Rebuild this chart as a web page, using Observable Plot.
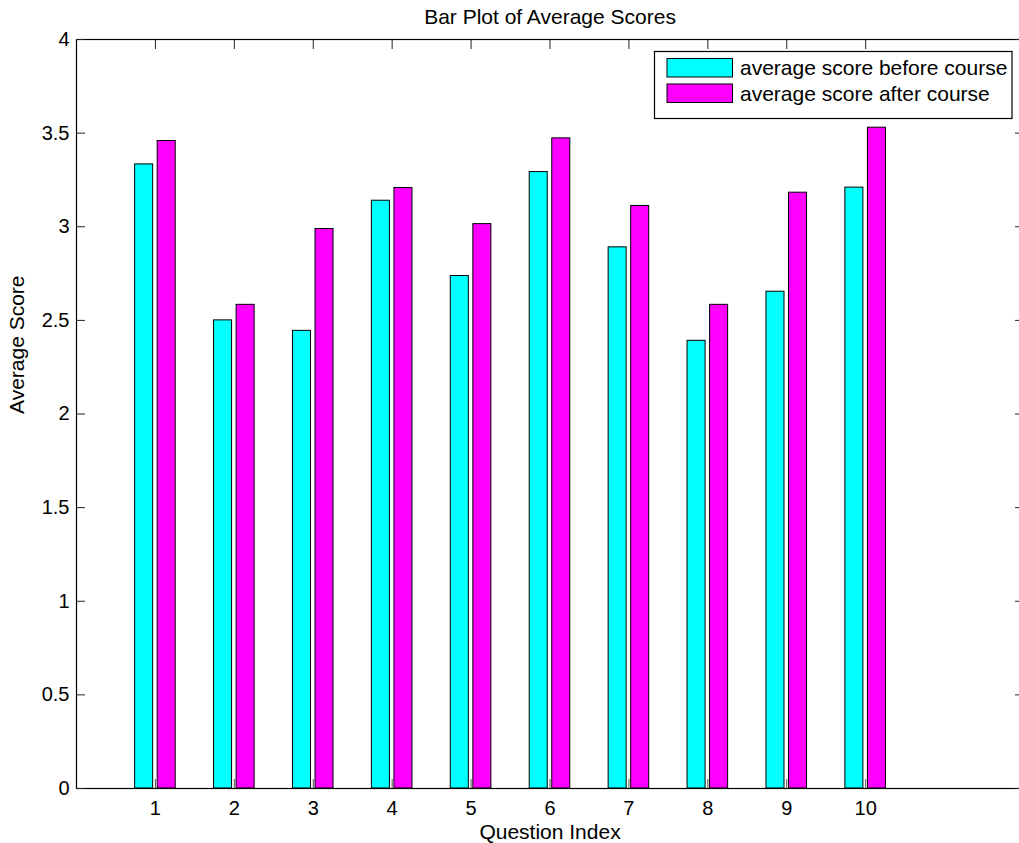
<!DOCTYPE html>
<html>
<head>
<meta charset="utf-8">
<script src="https://cdn.jsdelivr.net/npm/d3@7"></script>
<script src="https://cdn.jsdelivr.net/npm/@observablehq/plot@0.6"></script>
<style>
  html, body { margin: 0; padding: 0; background: #fff; overflow: hidden; }
  #chart svg { display: block; }
</style>
</head>
<body>
<div id="chart"></div>
<script>
const questions = [1, 2, 3, 4, 5, 6, 7, 8, 9, 10];
const beforeScores = [3.333, 2.500, 2.444, 3.139, 2.737, 3.292, 2.890, 2.391, 2.653, 3.209];
const afterScores  = [3.458, 2.583, 2.988, 3.207, 3.014, 3.472, 3.111, 2.583, 3.182, 3.529];
const seriesNames = ["average score before course", "average score after course"];
const seriesColors = ["#00ffff", "#ff00ff"];
const xTicks = [1, 2, 3, 4, 5, 6, 7, 8, 9, 10];
const yTicks = [0, 0.5, 1, 1.5, 2, 2.5, 3, 3.5, 4];
const titleText = "Bar Plot of Average Scores";
const xLabel = "Question Index";
const yLabel = "Average Score";

const data = questions.flatMap((q, i) => [
  {q, s: 0, value: beforeScores[i]},
  {q, s: 1, value: afterScores[i]}
]);

// MATLAB grouped bar geometry
const nSeries = 2;
const groupWidth = Math.min(0.8, nSeries / (nSeries + 1.5));
const offs = groupWidth / 4;
const barW = 0.8 * groupWidth / nSeries;
const center = d => d.q + (d.s === 0 ? -offs : offs);

const font = "'Liberation Sans', Arial, Helvetica, sans-serif";

const chart = Plot.plot({
  width: 1019,
  height: 843,
  marginLeft: 76,
  marginTop: 39,
  marginBottom: 55,
  marginRight: -4,
  style: {fontFamily: font, fontSize: "20px", background: "white", color: "black"},
  x: {domain: [0, 12], label: null},
  y: {domain: [0, 4], label: null},
  marks: [
    Plot.rect(data, {
      x1: d => center(d) - barW / 2,
      x2: d => center(d) + barW / 2,
      y1: 0,
      y2: "value",
      fill: d => seriesColors[d.s],
      stroke: "black",
      strokeWidth: 1
    }),
    Plot.frame({stroke: "black", strokeWidth: 1.2}),
    Plot.axisX({ticks: xTicks, anchor: "bottom", tickSize: 0, tickPadding: 12, tickFormat: d => String(d), label: null, fontSize: 20}),
    Plot.axisX({ticks: xTicks, anchor: "bottom", tickSize: -9, text: null, label: null, stroke: "#555"}),
    Plot.axisX({ticks: xTicks, anchor: "top", tickSize: -9, text: null, label: null, stroke: "#222"}),
    Plot.axisY({ticks: yTicks, anchor: "left", tickSize: 0, tickPadding: 7, tickFormat: d => String(d), label: null, fontSize: 20}),
    Plot.axisY({ticks: yTicks, anchor: "left", tickSize: -9, text: null, label: null, stroke: "#222"}),
    Plot.axisY({ticks: yTicks, anchor: "right", tickSize: -9, text: null, label: null, stroke: "#222"}),
    Plot.text([titleText], {frameAnchor: "top", dy: -22.7, fontSize: 21, lineAnchor: "middle"}),
    Plot.text([xLabel], {frameAnchor: "bottom", dy: 43.3, fontSize: 21, lineAnchor: "middle"}),
    Plot.text([yLabel], {frameAnchor: "left", dx: -59, rotate: -90, fontSize: 21, lineAnchor: "middle"})
  ]
});

document.getElementById("chart").appendChild(chart);

// Legend (inside the axes, top right)
const svg = d3.select(chart);
const lg = svg.append("g").attr("font-family", font).attr("font-size", 21).attr("text-anchor", "start");
lg.append("rect").attr("x", 654.5).attr("y", 51.5).attr("width", 357.5).attr("height", 67)
  .attr("fill", "white").attr("stroke", "black").attr("stroke-width", 1.2);
const rowsY = [58.5, 84];
seriesNames.forEach((name, i) => {
  lg.append("rect").attr("x", 667).attr("y", rowsY[i]).attr("width", 65.5).attr("height", 18.5)
    .attr("fill", seriesColors[i]).attr("stroke", "black").attr("stroke-width", 1);
  lg.append("text").attr("x", 740).attr("y", rowsY[i] + 9.25).attr("dy", "0.35em")
    .attr("text-anchor", "start").attr("fill", "black").text(name);
});
</script>
</body>
</html>
